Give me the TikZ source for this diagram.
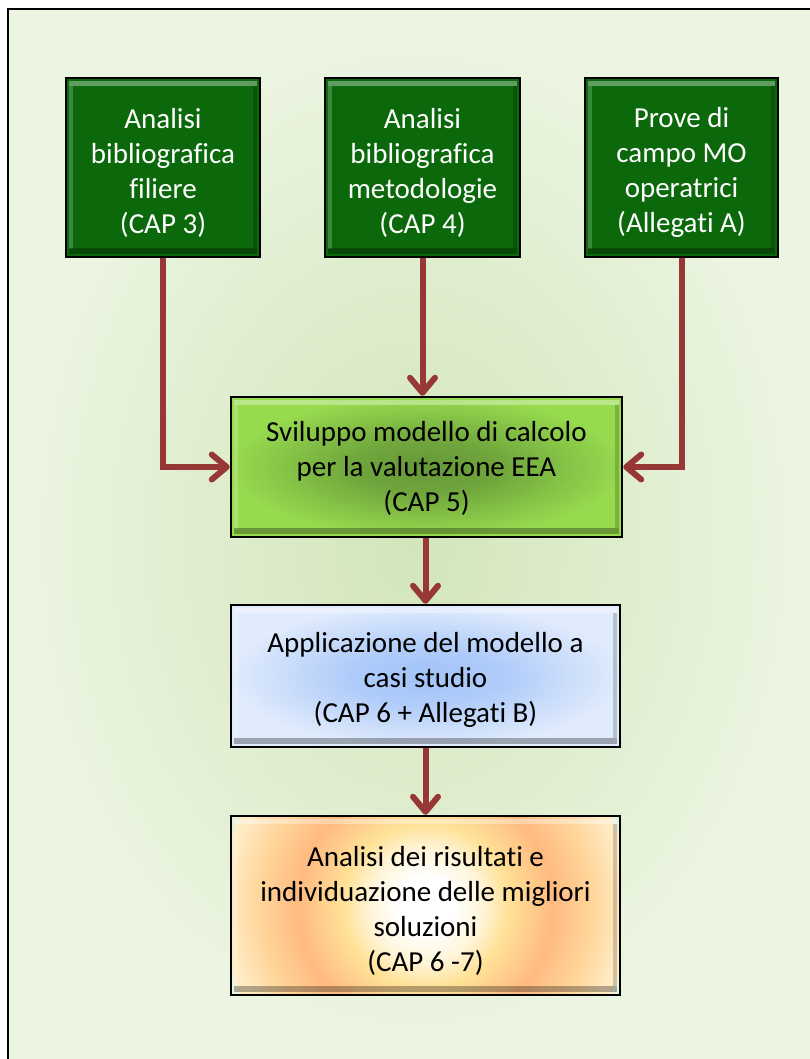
\documentclass[tikz,border=0pt]{standalone}
\usepackage{fontspec}
\setmainfont{Carlito}[Ligatures=NoCommon]
\usetikzlibrary{arrows.meta}

\definecolor{arrowred}{RGB}{152,56,54}
\definecolor{dkgreen}{RGB}{11,105,11}
\definecolor{bgin}{RGB}{210,229,186}
\definecolor{bgout}{RGB}{236,245,226}
\definecolor{limein}{RGB}{102,152,56}
\definecolor{limeout}{RGB}{150,218,78}
\definecolor{bluein}{RGB}{162,195,248}
\definecolor{blueout}{RGB}{224,235,252}
\definecolor{orwhite}{RGB}{255,244,215}
\definecolor{oryellow}{RGB}{255,226,152}
\definecolor{ormid}{RGB}{255,186,128}
\definecolor{orpale}{RGB}{255,212,152}
\definecolor{orlight}{RGB}{255,234,194}

% radial shadings: 25bp is the edge of the shaded path's bounding box
\pgfdeclareradialshading{bgshade}{\pgfpoint{0bp}{0bp}}{color(0bp)=(bgin); color(25bp)=(bgout); color(40bp)=(bgout)}
\pgfdeclareradialshading{limeshade}{\pgfpoint{0bp}{0bp}}{color(0bp)=(limein); color(9bp)=(limein!80!limeout); color(25bp)=(limeout); color(40bp)=(limeout)}
\pgfdeclareradialshading{blueshade}{\pgfpoint{0bp}{0bp}}{color(0bp)=(bluein); color(10bp)=(bluein!78!blueout); color(25bp)=(blueout); color(40bp)=(blueout)}
\pgfdeclareradialshading{orangeshade}{\pgfpoint{0bp}{0bp}}{color(0bp)=(white); color(3.5bp)=(white); color(7bp)=(orwhite); color(10bp)=(oryellow); color(15.5bp)=(ormid); color(20bp)=(orpale); color(24bp)=(orlight); color(30bp)=(orlight)}

\tikzset{
  bevelstrips/.code={
      \fill[white, opacity=0.35]
        ([shift={(3,3)}]path picture bounding box.north west) rectangle
        ([shift={(-3,8)}]path picture bounding box.north east);
      \fill[white, opacity=0.2]
        ([shift={(3,8)}]path picture bounding box.north west) rectangle
        ([shift={(7,-8)}]path picture bounding box.south west);
      \fill[black, opacity=0.3]
        ([shift={(3,-3)}]path picture bounding box.south west) rectangle
        ([shift={(-3,-9)}]path picture bounding box.south east);
      \fill[black, opacity=0.18]
        ([shift={(-3,8)}]path picture bounding box.north east) rectangle
        ([shift={(-7,-9)}]path picture bounding box.south east);
  },
  box/.style={draw=black, line width=2.5pt, inner sep=0pt,
    path picture={\tikzset{bevelstrips}}},
  topbox/.style={box, fill=dkgreen, minimum width=194pt, minimum height=179pt},
  boxtext/.style={inner sep=0pt, align=center, font=\fontsize{29}{35}\selectfont},
  flow/.style={draw=arrowred, line width=6pt,
    -{Straight Barb[length=15pt, width=25pt, round]}}
}

\begin{document}
\begin{tikzpicture}[x=1pt, y=-1pt]
\useasboundingbox (0,0) rectangle (810,1059);

% background panel
\path[shading=bgshade, draw=black, line width=1.5pt] (8,9) rectangle (818,1068);

% source boxes
\node[topbox] (b1) at (163,167.5) {};
\node[topbox, minimum width=195pt] (b2) at (422.5,167.5) {};
\node[topbox, minimum width=193pt] (b3) at (681.5,167.5) {};
\node[boxtext, text=white] (t1) at ([yshift=-5]b1.center) {Analisi\\bibliografica\\filiere\\(CAP 3)};
\node[boxtext, text=white] (t2) at ([yshift=-5]b2.center) {Analisi\\bibliografica\\metodologie\\(CAP 4)};
\node[boxtext, text=white] (t3) at ([yshift=-5]b3.center) {Prove di\\campo MO\\operatrici\\(Allegati A)};

% model development
\node[box, shading=limeshade, minimum width=391pt, minimum height=140pt] (b5) at (426.5,467) {};
\node[boxtext] (t5) at ([yshift=-1]b5.center) {Sviluppo modello di calcolo\\per la valutazione EEA\\(CAP 5)};

% application
\node[box, shading=blueshade, minimum width=389pt, minimum height=142pt] (b6) at (425.5,676) {};
\node[boxtext] (t6) at ([yshift=-4]b6.center) {Applicazione del modello a\\casi studio\\(CAP 6 + Allegati B)};

% results: circular warm glow clipped to the box
\node[box, minimum width=389pt, minimum height=179pt,
  path picture={
    \path[shading=orangeshade] (path picture bounding box.center) circle (205);
    \tikzset{bevelstrips}
  }] (b7) at (425.5,905.5) {};
\node[boxtext] (t7) at ([yshift=-5]b7.center) {Analisi dei risultati e\\individuazione delle migliori\\soluzioni\\(CAP 6 -7)};

% connectors
\draw[flow] (b1.south) |- (b5.west);
\draw[flow] (b2.south) -- (b2.south |- b5.north);
\draw[flow] (b3.south) |- (b5.east);
\draw[flow] (b5.south -| b6.north) -- (b6.north);
\draw[flow] (b6.south) -- (b7.north);
\end{tikzpicture}
\end{document}
